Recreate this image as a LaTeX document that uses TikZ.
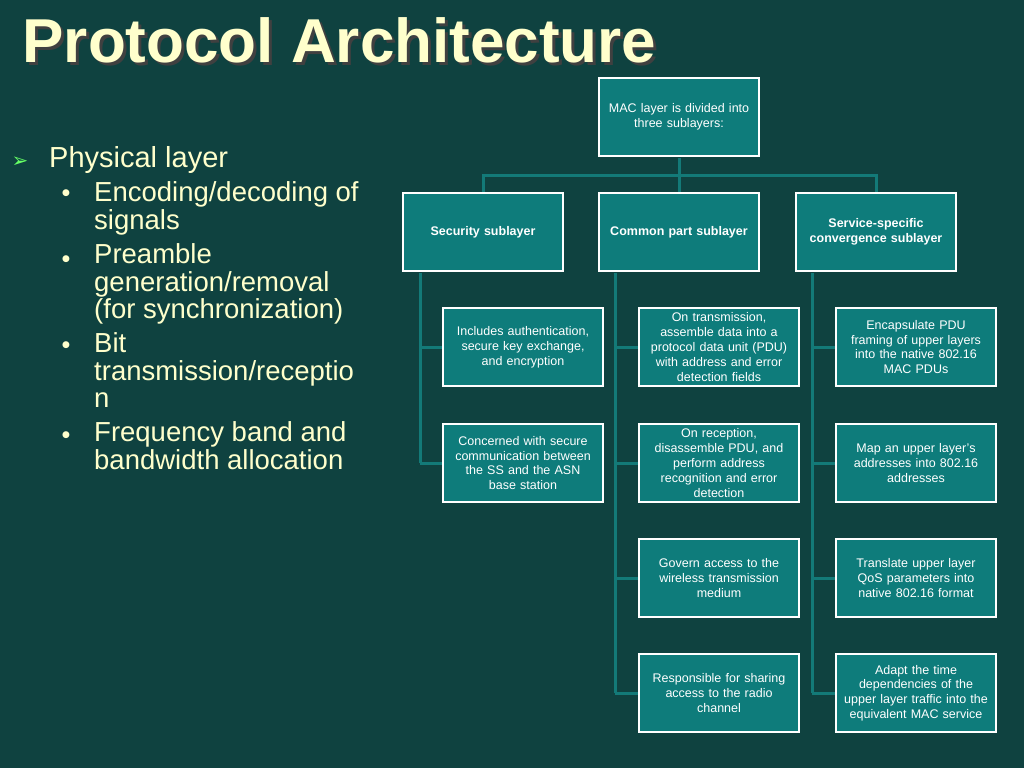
\documentclass[tikz,border=0pt]{standalone}
\usepackage{fontspec}
\setmainfont{Liberation Sans}
\newfontfamily\djv{DejaVu Sans}
\definecolor{bg}{HTML}{0F4240}
\definecolor{bx}{HTML}{0E7C7B}
\definecolor{ln}{HTML}{137A78}
\definecolor{cream}{HTML}{FFFFCC}
\begin{document}
\begin{tikzpicture}[x=1pt,y=-1pt,
  box/.style={draw=white,line width=2.5pt,fill=bx,minimum width=160pt,minimum height=78pt,text width=158pt,align=center,text=white,font=\fontsize{12.5}{14.8}\selectfont,inner sep=1pt},
  hbox/.style={box,font=\fontsize{12.5}{14.8}\selectfont\bfseries},
  conn/.style={draw=ln,line width=3pt},
  item/.style={anchor=base west,text=cream,font=\fontsize{27.5}{27.5}\selectfont,align=left,inner sep=0},
  dot/.style={anchor=center,text=cream,font=\djv\fontsize{9}{9}\selectfont,inner sep=0}]
\fill[bg] (0,0) rectangle (1024,768);
\useasboundingbox (0,0) rectangle (1024,768);
\node[anchor=base west,text=black!75,font=\fontsize{62}{62}\selectfont\bfseries] (tsh) at (22,65) {Protocol Architecture};
\node[anchor=base west,text=cream,font=\fontsize{62}{62}\selectfont\bfseries] (title) at (19,63) {Protocol Architecture};
\node[anchor=base west,text=green!60!white,font=\djv\fontsize{20}{20}\selectfont] (b0) at (8,167) {➢};
\node[item,font=\fontsize{29}{29}\selectfont] (l0) at (49,167) {Physical layer};
\node[dot] (d1) at (66,193) {●};
\node[item] (l1) at (94,201) {Encoding/decoding of};
\node[item] (l2) at (94,229) {signals};
\node[dot] (d2) at (66,259) {●};
\node[item] (l3) at (94,263) {Preamble};
\node[item] (l4) at (94,291) {generation/removal};
\node[item] (l5) at (94,318) {(for synchronization)};
\node[dot] (d3) at (66,345) {●};
\node[item] (l6) at (94,352) {Bit};
\node[item] (l7) at (94,380) {transmission/receptio};
\node[item] (l8) at (94,407) {n};
\node[dot] (d4) at (66,435) {●};
\node[item] (l9) at (94,441) {Frequency band and};
\node[item] (l10) at (94,469) {bandwidth allocation};
% connectors
\draw[conn] (679,158) -- (679,192);
\draw[conn] (483,192) |- (876,175) -- (876,192);
\draw[conn] (420,273) -- (420,463) (420,347) -- (442,347) (420,463) -- (442,463);
\draw[conn] (615,273) -- (615,693);
\foreach \yy in {347,463,578,693} \draw[conn] (615,\yy) -- (638,\yy);
\draw[conn] (812,273) -- (812,693);
\foreach \yy in {347,463,578,693} \draw[conn] (812,\yy) -- (835,\yy);
\node[box] (mac) at (679,117) {MAC layer is divided into\\three sublayers:};
\node[hbox] (sec) at (483,232) {Security sublayer};
\node[hbox] (com) at (679,232) {Common part sublayer};
\node[hbox] (svc) at (876,232) {Service-specific\\convergence sublayer};
\node[box] (s1) at (523,347) {Includes authentication,\\secure key exchange,\\and encryption};
\node[box] (s2) at (523,463) {Concerned with secure\\communication between\\the SS and the ASN\\base station};
\node[box] (c1) at (719,347) {On transmission,\\assemble data into a\\protocol data unit (PDU)\\with address and error\\detection fields};
\node[box] (c2) at (719,463) {On reception,\\disassemble PDU, and\\perform address\\recognition and error\\detection};
\node[box] (c3) at (719,578) {Govern access to the\\wireless transmission\\medium};
\node[box] (c4) at (719,693) {Responsible for sharing\\access to the radio\\channel};
\node[box] (v1) at (916,347) {Encapsulate PDU\\framing of upper layers\\into the native 802.16\\MAC PDUs};
\node[box] (v2) at (916,463) {Map an upper layer’s\\addresses into 802.16\\addresses};
\node[box] (v3) at (916,578) {Translate upper layer\\QoS parameters into\\native 802.16 format};
\node[box] (v4) at (916,693) {Adapt the time\\dependencies of the\\upper layer traffic into the\\equivalent MAC service};
\end{tikzpicture}
\end{document}
